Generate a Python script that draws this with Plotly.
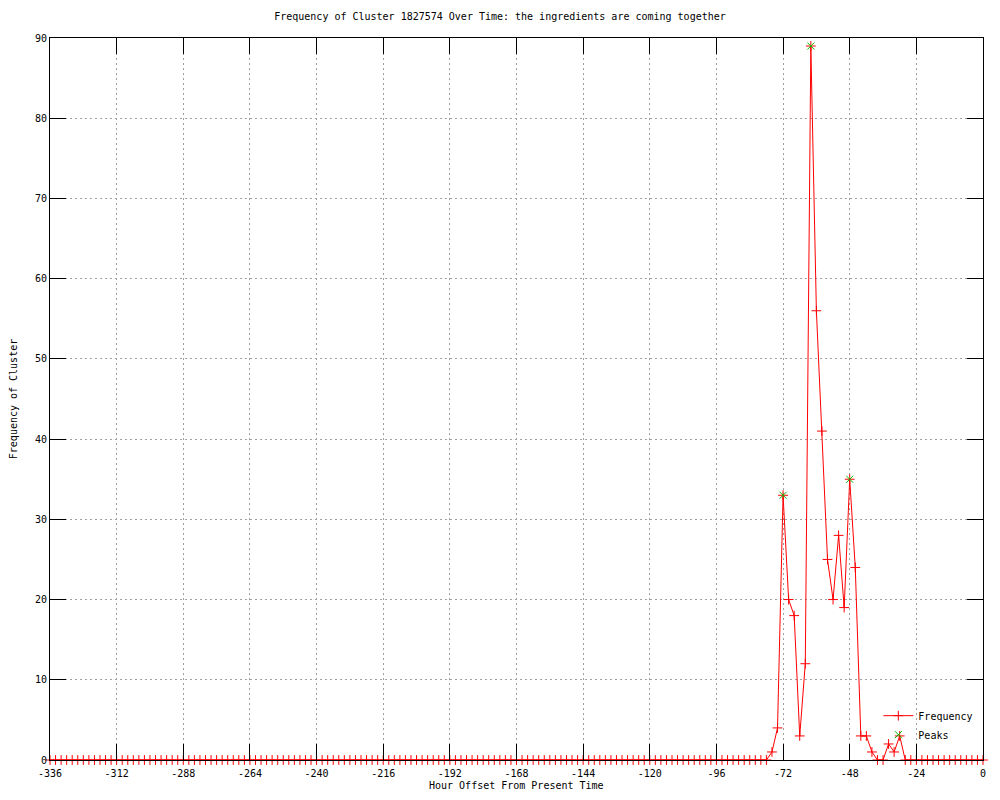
import plotly.graph_objects as go

# Hour offsets every 2 hours from -336 to 0
hours = list(range(-336, 1, 2))
# Non-zero frequencies (others are 0)
nonzero = {
    -76: 1, -74: 4, -72: 33, -70: 20, -68: 18, -66: 3, -64: 12, -62: 89,
    -60: 56, -58: 41, -56: 25, -54: 20, -52: 28, -50: 19, -48: 35, -46: 24,
    -44: 3, -42: 3, -40: 1, -38: 0, -36: 0, -34: 2, -32: 1, -30: 3, -28: 0,
}
freq = [nonzero.get(h, 0) for h in hours]

peak_hours = [-72, -62, -48]
peak_values = [33, 89, 35]

title_text = "Frequency of Cluster 1827574 Over Time: the ingredients are coming together"
x_title = "Hour Offset From Present Time"
y_title = "Frequency of Cluster"
x_ticks = list(range(-336, 1, 24))
y_ticks = list(range(0, 91, 10))

FONT = "DejaVu Sans Mono"
RED = "#ff0000"
GREEN = "#00c000"

fig = go.Figure()
fig.add_trace(go.Scatter(
    x=hours, y=freq, mode="lines+markers", name="Frequency",
    line=dict(color=RED, width=1),
    marker=dict(symbol="cross-thin", size=7, line=dict(color=RED, width=1), color=RED),
    cliponaxis=False,
))
fig.add_trace(go.Scatter(
    x=peak_hours, y=peak_values, mode="markers", name="Peaks",
    marker=dict(symbol="x-thin", size=7, line=dict(color=GREEN, width=1), color=GREEN),
    cliponaxis=False,
))

fig.update_layout(
    width=984, height=784,
    paper_bgcolor="white", plot_bgcolor="white",
    margin=dict(l=42, r=9, t=30, b=32, autoexpand=False),
    font=dict(family=FONT, size=10, color="black"),
    title=dict(text=title_text, x=0.5, xanchor="center", y=0.994, yanchor="top",
               font=dict(family=FONT, size=10, color="black")),
    showlegend=True,
    legend=dict(x=0.995, y=0.015, xanchor="right", yanchor="bottom",
                bgcolor="rgba(0,0,0,0)", font=dict(family=FONT, size=10),
                tracegroupgap=0, itemwidth=30),
)
fig.add_annotation(
    text=x_title, xref="paper", yref="paper", x=0.5, y=0, yshift=-25,
    xanchor="center", yanchor="middle", showarrow=False,
    font=dict(family=FONT, size=10, color="black"),
)
fig.update_xaxes(
    range=[-336, 0], tickvals=x_ticks, ticktext=[str(v) for v in x_ticks],
    ticks="inside", ticklen=16, tickcolor="black", tickwidth=1,
    showline=True, linecolor="black", linewidth=1, mirror="ticks",
    showgrid=True, gridcolor="#a0a0a0", griddash="2px,3px", gridwidth=1,
    zeroline=False, automargin=False, ticklabelstandoff=4,
    tickfont=dict(family=FONT, size=10),
)
fig.update_yaxes(
    range=[0, 90], tickvals=y_ticks,
    ticks="inside", ticklen=16, tickcolor="black", tickwidth=1,
    showline=True, linecolor="black", linewidth=1, mirror="ticks",
    showgrid=True, gridcolor="#a0a0a0", griddash="2px,3px", gridwidth=1,
    zeroline=False, automargin=False,
    title=dict(text=y_title, standoff=15, font=dict(family=FONT, size=10)),
    tickfont=dict(family=FONT, size=10),
)

fig.write_html("out.html")
